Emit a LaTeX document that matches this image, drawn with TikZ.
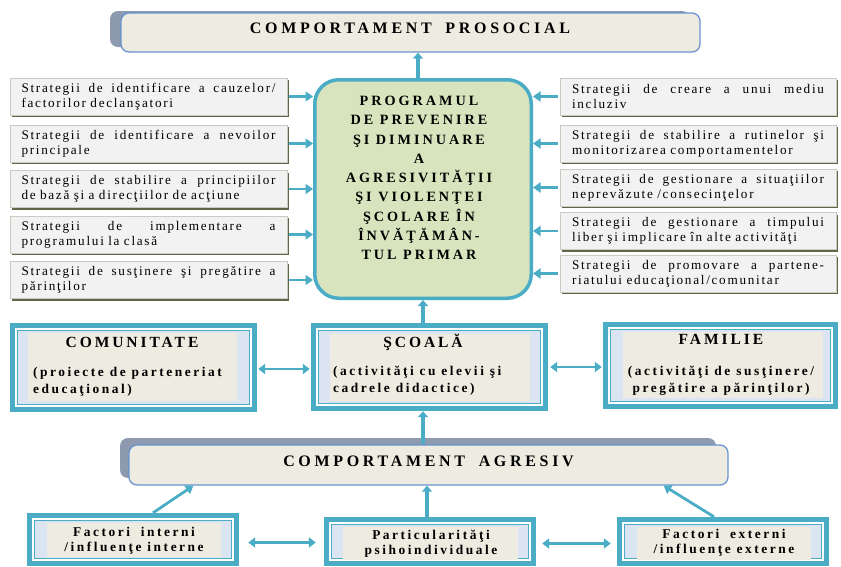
\documentclass[tikz,border=0pt]{standalone}
\usepackage{fontspec}
\setmainfont{Liberation Serif}
\newfontfamily\stratfont[LetterSpace=13]{Liberation Serif}
\newfontfamily\progfont[LetterSpace=21]{Liberation Serif}
\newfontfamily\boxfont[LetterSpace=19]{Liberation Serif}
\newfontfamily\headfont[LetterSpace=23]{Liberation Serif}
\usetikzlibrary{arrows.meta,shadows,fit,calc}
\definecolor{acc}{HTML}{4BACC6}
\definecolor{grn}{HTML}{D7E4BD}
\definecolor{beige}{HTML}{EEECE1}
\definecolor{lblue}{HTML}{DBE5F1}
\definecolor{sgray}{HTML}{F2F2F2}
\definecolor{sborder}{HTML}{C9CCC0}
\definecolor{sshadow}{HTML}{5E6849}
\definecolor{tborder}{HTML}{6A93CF}
\definecolor{tshadow}{HTML}{8D9AAF}
\newcommand\sline[2]{\makebox[#1][s]{\spaceskip=\fontdimen2\font plus 1fil\relax #2}}
\newcommand\tribox[9]{%
  \draw[acc, line width=5pt, fill=white] (#2+2.5,#3+2.5) rectangle (#4-2.5,#5-2.5);
  \draw[acc, line width=0.9pt, fill=lblue] (#2+7.5,#3+7.5) rectangle (#4-7.5,#5-7.5);
  \fill[beige] (#6,#7) rectangle (#8,#9);
  \node[fit={(#2,#3) (#4,#5)}, inner sep=0pt] (#1) {};
}
\begin{document}
\begin{tikzpicture}[x=1pt,y=-1pt,
  strat/.style={fill=sgray, draw=sborder, line width=0.5pt,
    drop shadow={shadow xshift=1.5pt, shadow yshift=-2pt, fill=sshadow, opacity=1},
    minimum height=37pt, inner ysep=2pt, align=left,
    font=\stratfont\fontsize{13.2}{15}\selectfont},
  lstrat/.style={strat, text width=254pt, inner xsep=11.5pt},
  rstrat/.style={strat, text width=252pt, inner xsep=12pt},
  arr/.style={-{Triangle[length=7.5pt,width=10pt]}, line width=2.8pt, draw=acc},
  varr/.style={-{Triangle[length=6pt,width=10pt]}, line width=4pt, draw=acc},
  darr/.style={{Triangle[length=7pt,width=10pt]}-{Triangle[length=7pt,width=10pt]}, line width=2.5pt, draw=acc},
  headbox/.style={fill=beige, draw=tborder, line width=1.3pt, rounded corners=8pt, inner sep=0pt},
  headtext/.style={font=\headfont\bfseries\fontsize{16}{18}\selectfont},
  mtitle/.style={font=\boxfont\bfseries\fontsize{15.5}{17}\selectfont, inner sep=0pt},
  mbody/.style={font=\boxfont\bfseries\fontsize{13.4}{17}\selectfont, inner sep=0pt},
  btext/.style={font=\boxfont\bfseries\fontsize{13.4}{15}\selectfont, inner sep=0pt, align=center}
]
\useasboundingbox (0,0) rectangle (841,566);

% top head box
\fill[tshadow, rounded corners=8pt] (110,11) rectangle (690,47);
\node[headbox, minimum width=579pt, minimum height=39pt] (T) at (410.5,32.5) {};
\node[headtext] (Tt) at (410,28) {COMPORTAMENT\hspace{6pt} PROSOCIAL};

% central program box
\node[draw=acc, fill=grn, line width=3.5pt, rounded corners=24pt, inner sep=0pt,
      minimum width=216.5pt, minimum height=218.5pt] (C) at (423,189) {};
\node[font=\progfont\bfseries\fontsize{14.2}{19.3}\selectfont, align=center, inner sep=0pt] (Ct) at (419,178)
 {PROGRAMUL\\DE PREVENIRE\\ŞI DIMINUARE\\A\\AGRESIVITĂŢII\\ŞI VIOLENŢEI\\ŞCOLARE ÎN\\ÎNVĂŢĂMÂN-\\TUL PRIMAR};

% left strategies
\node[lstrat] (L1) at (148.5,96.5) {\sline{254pt}{Strategii de identificare a cauzelor/}\\factorilor declanşatori};
\node[lstrat] (L2) at (148.5,143.5) {\sline{254pt}{Strategii de identificare a nevoilor}\\principale};
\node[lstrat] (L3) at (148.5,189) {\sline{254pt}{Strategii de stabilire a principiilor}\\de bază şi a direcţiilor de acţiune};
\node[lstrat] (L4) at (148.5,234.5) {\sline{254pt}{Strategii de implementare a}\\programului la clasă};
\node[lstrat] (L5) at (148.5,280) {\sline{254pt}{Strategii de susţinere şi pregătire a}\\părinţilor};

% right strategies
\node[rstrat] (R1) at (698,96.5) {\sline{252pt}{Strategii de creare a unui mediu}\\incluziv};
\node[rstrat] (R2) at (698,143.5) {\sline{252pt}{Strategii de stabilire a rutinelor şi}\\monitorizarea comportamentelor};
\node[rstrat] (R3) at (698,187.5) {\sline{252pt}{Strategii de gestionare a situaţiilor}\\neprevăzute /consecinţelor};
\node[rstrat] (R4) at (698,231) {\sline{252pt}{Strategii de gestionare a timpului}\\liber şi implicare în alte activităţi};
\node[rstrat] (R5) at (698,273.5) {\sline{252pt}{Strategii de promovare a partene-}\\riatului educaţional/comunitar};

\foreach \i in {1,...,5}{
  \draw[arr] ([xshift=2pt]L\i.east) -- (L\i.east -| C.west);
  \draw[arr] ([xshift=-2pt]R\i.west) -- (R\i.west -| C.east);
}

% middle row
\tribox{COM}{10}{323}{257}{412}{28}{333}{237}{401}
\tribox{SCO}{311}{323}{548}{411}{330}{334}{530}{401}
\tribox{FAM}{603}{322}{838}{409}{623}{332}{823}{398}
\node[mtitle] (COMt) at (132,342) {COMUNITATE};
\node[mbody, anchor=west, align=left] (COMb) at (33,381.5) {(proiecte de parteneriat\\educaţional)};
\node[mtitle] (SCOt) at (423,342) {ŞCOALĂ};
\node[mbody, anchor=west, align=left] (SCOb) at (333,381) {(activităţi cu elevii şi\\cadrele didactice)};
\node[mtitle] (FAMt) at (721,339) {FAMILIE};
\node[mbody, align=center] (FAMb) at (721,380.5) {(activităţi de susţinere/\\pregătire a părinţilor)};

\draw[darr] ([xshift=1pt,yshift=-1.5pt]COM.east) -- ([xshift=-1pt,yshift=-1.5pt]COM.east -| SCO.west);
\draw[darr] ([xshift=2pt]SCO.east) -- ([xshift=-1pt]SCO.east -| FAM.west);

% bottom head box
\fill[tshadow, rounded corners=8pt] (120,438) rectangle (716,478);
\node[headbox, minimum width=599pt, minimum height=40pt] (AG) at (428.5,465) {};
\node[headtext] (AGt) at (428.5,461) {COMPORTAMENT\hspace{6pt} AGRESIV};

% bottom row
\tribox{FI}{27}{513}{239}{566}{47}{523}{221}{557}
\tribox{P}{324}{517}{536}{566}{343}{527}{518}{560}
\tribox{FE}{617}{517}{829}{566}{637}{527}{811}{560}
\node[btext] (FIt) at (134,540.5) {Factori\hspace{5pt} interni\\/influenţe interne};
\node[btext] (Pt) at (431,544) {Particularităţi\\psihoindividuale};
\node[btext] (FEt) at (724,543) {Factori\hspace{5pt} externi\\/influenţe externe};

\draw[darr, shorten <=9pt, shorten >=8pt] ([yshift=-3pt]FI.east) -- ([yshift=-3pt]FI.east -| P.west);
\draw[darr, shorten <=6pt, shorten >=6pt] ([yshift=-2pt]P.east) -- ([yshift=-2pt]P.east -| FE.west);

% vertical connectors
\draw[varr] ([xshift=-5pt]C.north) -- ([xshift=-5pt]C.north |- T.south);
\draw[varr] (SCO.north -| C.south) -- (C.south);
\draw[varr] (AG.north -| C.south) -- (C.south |- SCO.south);
\draw[varr] ([xshift=-3pt]P.north) -- ([xshift=-3pt]P.north |- AG.south);
\draw[arr] ([xshift=20pt]FI.north) -- ([xshift=65pt]AG.south west);
\draw[arr] ([xshift=-9pt]FE.north) -- ([xshift=-65pt]AG.south east);
\end{tikzpicture}
\end{document}
